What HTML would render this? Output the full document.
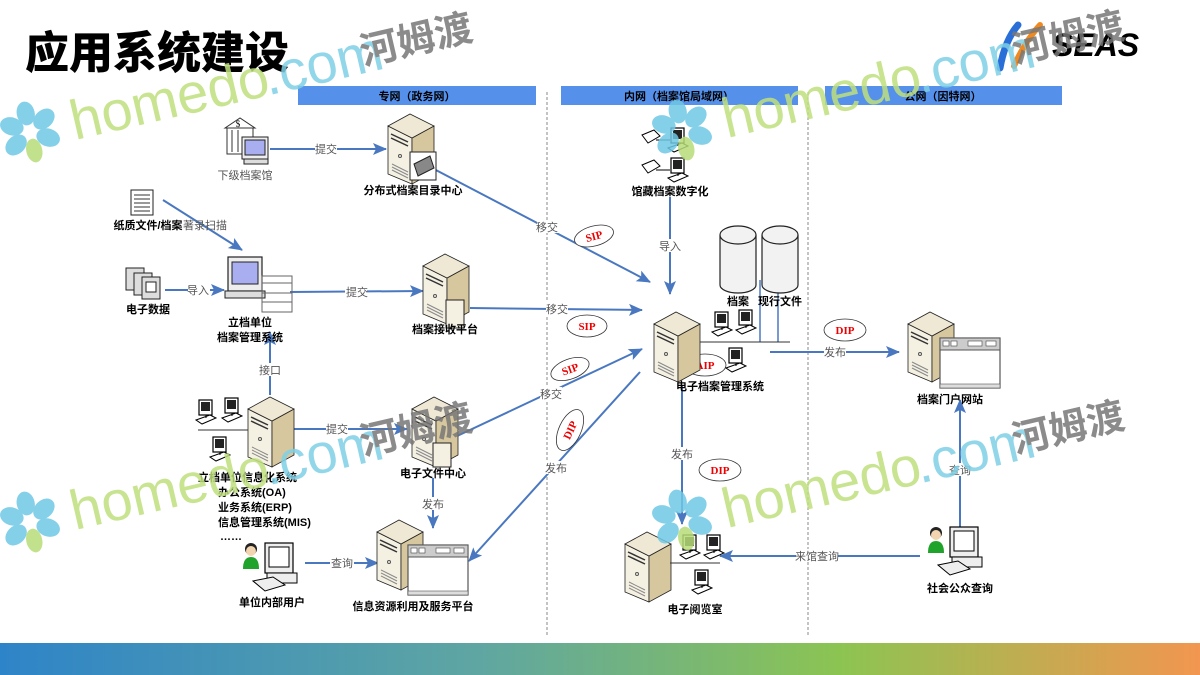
<!DOCTYPE html>
<html><head><meta charset="utf-8">
<style>
html,body{margin:0;padding:0;background:#fff;}
#c{position:relative;width:1200px;height:675px;overflow:hidden;font-family:"Liberation Serif","Noto Serif CJK SC","Noto Sans CJK SC",serif;}
svg text{font-family:"Liberation Serif","Noto Sans CJK SC",serif;}
svg text.b{font-family:"Liberation Sans","Noto Sans CJK SC",sans-serif;font-weight:bold;font-size:11px;fill:#000;}
.g{font-size:11px;fill:#555;}
.r{font-size:11px;fill:#e00;font-weight:bold;}
svg text.wm{font-family:"Liberation Sans",sans-serif;}
svg text.wc{font-family:"Noto Sans CJK SC","WenQuanYi Zen Hei",sans-serif;font-weight:bold;}
</style></head><body><div id="c">
<svg width="1200" height="675" viewBox="0 0 1200 675" xmlns="http://www.w3.org/2000/svg">
<defs>
<linearGradient id="bar" x1="0" x2="1">
<stop offset="0" stop-color="#2e84c8"/><stop offset="0.4" stop-color="#5fa6a2"/><stop offset="0.7" stop-color="#8cc452"/><stop offset="1" stop-color="#f29650"/>
</linearGradient>
<marker id="ah" markerWidth="14" markerHeight="12" refX="13" refY="6" orient="auto" markerUnits="userSpaceOnUse">
<path d="M0,0 L14,6 L0,12 L3,6 z" fill="#4a78c0"/></marker>
<g id="srv">
<polygon points="0,14 24,26 24,72 0,62" fill="#f4f0e2" stroke="#222" stroke-width="0.8"/>
<polygon points="24,26 46,14 46,60 24,72" fill="#d6c79e" stroke="#222" stroke-width="0.8"/>
<polygon points="0,14 22,2 46,14 24,26" fill="#eee8d4" stroke="#222" stroke-width="0.8"/>
<line x1="3" y1="22" x2="20" y2="30" stroke="#333" stroke-width="1.5"/>
<line x1="3" y1="26" x2="20" y2="34" stroke="#333" stroke-width="1.5"/>
<circle cx="12" cy="44" r="1.5" fill="none" stroke="#555"/>
<line x1="4" y1="52" x2="20" y2="60" stroke="#888"/><line x1="4" y1="55" x2="20" y2="63" stroke="#888"/><line x1="4" y1="58" x2="20" y2="66" stroke="#888"/>
</g>
<g id="pc">
<rect x="3" y="0" width="13" height="15" fill="#fff" stroke="#000" stroke-width="1.2"/>
<rect x="5" y="2" width="9" height="9" fill="#222"/>
<polygon points="0,20 14,15 20,18 6,24" fill="#fff" stroke="#000"/>
<line x1="10" y1="15" x2="10" y2="18" stroke="#000"/>
</g>
<g id="win">
<rect x="0" y="0" width="60" height="50" fill="#fff" stroke="#555" stroke-width="1.2"/>
<rect x="0" y="0" width="60" height="12" fill="#ccc" stroke="#555"/>
<rect x="3" y="3" width="6" height="5" fill="#fff" stroke="#444" stroke-width="0.6"/><rect x="11" y="3" width="6" height="5" fill="#fff" stroke="#444" stroke-width="0.6"/>
<rect x="28" y="3" width="14" height="5" fill="#fff" stroke="#444" stroke-width="0.6"/><rect x="46" y="3" width="10" height="5" fill="#fff" stroke="#444" stroke-width="0.6"/>
<rect x="0" y="46" width="60" height="4" fill="#ddd" stroke="#555" stroke-width="0.6"/>
</g>
<g id="person">
<circle cx="8" cy="6" r="6" fill="#222"/><circle cx="8" cy="8" r="5" fill="#f2d5b0"/>
<path d="M0,26 Q0,14 8,14 Q16,14 16,26 z" fill="#1fa32a"/>
<rect x="22" y="0" width="28" height="30" fill="#eee" stroke="#000" stroke-width="1.2"/>
<rect x="26" y="4" width="20" height="20" fill="#fff" stroke="#000"/>
<rect x="24" y="30" width="30" height="10" fill="#eee" stroke="#000"/>
<polygon points="10,38 30,34 42,42 22,48" fill="#eee" stroke="#000"/>
</g>
<g id="flower" fill="#6fc8e6">
<ellipse cx="0" cy="-19" rx="9" ry="12"/><ellipse cx="0" cy="-19" rx="9" ry="12" transform="rotate(60)"/>
<ellipse cx="0" cy="-19" rx="9" ry="12" transform="rotate(120)"/><ellipse cx="0" cy="-19" rx="9" ry="12" transform="rotate(-60)"/>
<ellipse cx="0" cy="-19" rx="9" ry="12" transform="rotate(-120)"/><ellipse cx="0" cy="19" rx="8" ry="12" fill="#b7dc78"/>
</g>
<g id="wmk">
<use href="#flower"/>
<text class="wm" x="42" y="18" font-size="56" fill="#bfe07e">homedo</text>
<text class="wm" x="240" y="18" font-size="56" fill="#7fd0e6">.com</text>
<text class="wc" x="340" y="10" font-size="38" fill="#777">河姆渡</text>
</g>
</defs>

<text x="25" y="68" style="font-family:'Liberation Sans','Noto Sans CJK SC',sans-serif;font-weight:900;font-size:44px" fill="#000">应用系统建设</text>

<rect x="298" y="86" width="238" height="19" fill="#5590ea"/>
<rect x="561" y="86" width="237" height="19" fill="#5590ea"/>
<rect x="825" y="86" width="237" height="19" fill="#5590ea"/>
<text x="417" y="100" text-anchor="middle" class="b">专网（政务网）</text>
<text x="679" y="100" text-anchor="middle" class="b">内网（档案馆局域网）</text>
<text x="943" y="100" text-anchor="middle" class="b">公网（因特网）</text>

<line x1="547" y1="92" x2="547" y2="635" stroke="#888" stroke-dasharray="3,2"/>
<line x1="808" y1="92" x2="808" y2="635" stroke="#888" stroke-dasharray="3,2"/>

<rect x="0" y="643" width="1200" height="32" fill="url(#bar)"/>

<g stroke="#4a78c0" stroke-width="2" fill="none" marker-end="url(#ah)">
<line x1="270" y1="149" x2="386" y2="149"/>
<line x1="432" y1="168" x2="650" y2="282"/>
<line x1="163" y1="200" x2="242" y2="250"/>
<line x1="165" y1="290" x2="224" y2="290"/>
<line x1="290" y1="292" x2="423" y2="291"/>
<line x1="470" y1="308" x2="642" y2="310"/>
<line x1="270" y1="395" x2="270" y2="332"/>
<line x1="292" y1="429" x2="407" y2="429"/>
<line x1="455" y1="437" x2="642" y2="349"/>
<line x1="640" y1="372" x2="469" y2="561"/>
<line x1="433" y1="478" x2="433" y2="528"/>
<line x1="305" y1="563" x2="378" y2="563"/>
<line x1="670" y1="197" x2="670" y2="294"/>
<line x1="770" y1="352" x2="899" y2="352"/>
<line x1="682" y1="385" x2="682" y2="524"/>
<line x1="960" y1="528" x2="960" y2="400"/>
<line x1="920" y1="556" x2="720" y2="556"/>
</g>
<g stroke="#4a78c0" stroke-width="1.5">
<line x1="760" y1="280" x2="760" y2="342"/><line x1="778" y1="280" x2="778" y2="342"/>
</g>

<g class="g" text-anchor="middle">
<rect x="315" y="142" width="22" height="13" fill="#fff"/><text x="326" y="153">提交</text>
<rect x="345" y="285" width="22" height="13" fill="#fff"/><text x="357" y="296">提交</text>
<rect x="326" y="422" width="22" height="13" fill="#fff"/><text x="337" y="433">提交</text>
<rect x="537" y="220" width="22" height="13" fill="#fff"/><text x="547" y="231">移交</text>
<rect x="546" y="302" width="22" height="13" fill="#fff"/><text x="557" y="313">移交</text>
<rect x="540" y="387" width="22" height="13" fill="#fff"/><text x="551" y="398">移交</text>
<rect x="545" y="461" width="22" height="13" fill="#fff"/><text x="556" y="472">发布</text>
<rect x="422" y="497" width="22" height="13" fill="#fff"/><text x="433" y="508">发布</text>
<rect x="330" y="556" width="24" height="13" fill="#fff"/><text x="342" y="567">查询</text>
<rect x="188" y="283" width="22" height="13" fill="#fff"/><text x="198" y="294">导入</text>
<rect x="659" y="239" width="22" height="13" fill="#fff"/><text x="670" y="250">导入</text>
<rect x="259" y="363" width="22" height="13" fill="#fff"/><text x="270" y="374">接口</text>
<rect x="824" y="345" width="22" height="13" fill="#fff"/><text x="835" y="356">发布</text>
<rect x="671" y="447" width="22" height="13" fill="#fff"/><text x="682" y="458">发布</text>
<rect x="949" y="463" width="22" height="13" fill="#fff"/><text x="960" y="474">查询</text>
<rect x="796" y="549" width="42" height="13" fill="#fff"/><text x="817" y="560">来馆查询</text>
<text x="205" y="229">著录扫描</text>
<text x="245" y="179">下级档案馆</text>
</g>

<g fill="#fff" stroke="#333" stroke-width="0.8">
<ellipse cx="594" cy="236" rx="20" ry="10" transform="rotate(-15 594 236)"/>
<ellipse cx="587" cy="326" rx="20" ry="11"/>
<ellipse cx="570" cy="369" rx="20" ry="10" transform="rotate(-20 570 369)"/>
<ellipse cx="570" cy="430" rx="11" ry="22" transform="rotate(25 570 430)"/>
<ellipse cx="705" cy="365" rx="21" ry="11"/>
<ellipse cx="845" cy="330" rx="21" ry="11"/>
<ellipse cx="720" cy="470" rx="21" ry="11"/>
</g>
<g class="r" text-anchor="middle">
<text x="594" y="240" transform="rotate(-15 594 236)">SIP</text>
<text x="587" y="330">SIP</text>
<text x="570" y="373" transform="rotate(-20 570 369)">SIP</text>
<text x="570" y="434" transform="rotate(-65 570 430)">DIP</text>
<text x="705" y="369">AIP</text>
<text x="845" y="334">DIP</text>
<text x="720" y="474">DIP</text>
</g>

<g stroke="#333" fill="#fff">
<polygon points="225,128 240,118 255,128"/>
<rect x="227" y="128" width="26" height="26"/>
<line x1="232" y1="130" x2="232" y2="152"/><line x1="238" y1="130" x2="238" y2="152"/>
</g>
<text x="238" y="127" font-size="9" text-anchor="middle">$</text>
<rect x="242" y="137" width="26" height="22" fill="#eee" stroke="#222"/>
<rect x="245" y="140" width="20" height="15" fill="#a8aef0" stroke="#222"/>
<rect x="244" y="159" width="24" height="5" fill="#ddd" stroke="#222"/>

<use href="#srv" x="388" y="112"/>
<g transform="translate(410,152)"><rect x="0" y="0" width="26" height="28" fill="#fff" stroke="#222"/><polygon points="4,12 20,4 24,16 8,24" fill="#888" stroke="#222"/></g>
<text x="413" y="194" class="b" text-anchor="middle">分布式档案目录中心</text>

<rect x="131" y="190" width="22" height="25" fill="#fff" stroke="#222"/>
<g stroke="#333"><line x1="134" y1="195" x2="150" y2="195"/><line x1="134" y1="199" x2="150" y2="199"/><line x1="134" y1="203" x2="150" y2="203"/><line x1="134" y1="207" x2="150" y2="207"/><line x1="134" y1="211" x2="150" y2="211"/></g>
<text x="148" y="229" class="b" text-anchor="middle">纸质文件/档案</text>

<g stroke="#222" fill="#ddd">
<rect x="126" y="268" width="18" height="22"/><rect x="134" y="273" width="18" height="22"/><rect x="142" y="277" width="18" height="22"/>
<rect x="146" y="282" width="10" height="10" fill="#fff"/>
</g>
<text x="148" y="313" class="b" text-anchor="middle">电子数据</text>

<rect x="228" y="257" width="34" height="34" fill="#eee" stroke="#222" stroke-width="1.2"/>
<rect x="232" y="262" width="26" height="22" fill="#a8aef0" stroke="#222"/>
<rect x="225" y="291" width="40" height="7" fill="#ddd" stroke="#222"/>
<g stroke="#666" fill="none"><rect x="262" y="276" width="30" height="36"/><line x1="262" y1="283" x2="292" y2="283"/><line x1="262" y1="293" x2="292" y2="293"/><line x1="262" y1="302" x2="292" y2="302"/></g>
<text x="250" y="326" class="b" text-anchor="middle">立档单位</text>
<text x="250" y="341" class="b" text-anchor="middle">档案管理系统</text>

<use href="#srv" x="423" y="252"/>
<rect x="446" y="300" width="18" height="28" fill="#f4f0e2" stroke="#222"/>
<text x="445" y="333" class="b" text-anchor="middle">档案接收平台</text>

<use href="#pc" x="668" y="128"/><use href="#pc" x="668" y="158"/>
<g fill="#fff" stroke="#000"><polygon points="642,135 654,130 660,136 648,143"/><polygon points="642,165 654,160 660,166 648,173"/></g>
<line x1="656" y1="140" x2="670" y2="140" stroke="#000"/><line x1="656" y1="170" x2="670" y2="170" stroke="#000"/>
<text x="670" y="195" class="b" text-anchor="middle">馆藏档案数字化</text>

<g fill="#f2f2f2" stroke="#222" stroke-width="1.2">
<path d="M720,235 v50 a18,8 0 0 0 36,0 v-50"/><ellipse cx="738" cy="235" rx="18" ry="9"/>
<path d="M762,235 v50 a18,8 0 0 0 36,0 v-50"/><ellipse cx="780" cy="235" rx="18" ry="9"/>
</g>
<text x="738" y="305" class="b" text-anchor="middle">档案</text>
<text x="780" y="305" class="b" text-anchor="middle">现行文件</text>

<use href="#srv" x="654" y="310"/>
<line x1="700" y1="342" x2="790" y2="342" stroke="#333"/>
<use href="#pc" x="712" y="312"/><use href="#pc" x="736" y="310"/><use href="#pc" x="726" y="348"/>
<text x="720" y="390" class="b" text-anchor="middle">电子档案管理系统</text>

<use href="#srv" x="908" y="310"/>
<use href="#win" x="940" y="338"/>
<text x="950" y="403" class="b" text-anchor="middle">档案门户网站</text>

<use href="#srv" x="248" y="395"/>
<line x1="198" y1="430" x2="248" y2="430" stroke="#333"/>
<use href="#pc" x="196" y="400"/><use href="#pc" x="222" y="398"/><use href="#pc" x="210" y="437"/>
<g><text class="b" x="198" y="481">立档单位信息化系统</text>
<text class="b" x="218" y="496">办公系统(OA)</text><text class="b" x="218" y="511">业务系统(ERP)</text><text class="b" x="218" y="526">信息管理系统(MIS)</text><text class="b" x="220" y="540">……</text></g>

<use href="#srv" x="412" y="395"/>
<rect x="433" y="443" width="18" height="24" fill="#f4f0e2" stroke="#222"/>
<text x="433" y="477" class="b" text-anchor="middle">电子文件中心</text>

<use href="#srv" x="377" y="518"/>
<use href="#win" x="408" y="545"/>
<text x="413" y="610" class="b" text-anchor="middle">信息资源利用及服务平台</text>

<use href="#person" x="243" y="543"/>
<text x="272" y="606" class="b" text-anchor="middle">单位内部用户</text>

<use href="#srv" x="625" y="530"/>
<line x1="670" y1="563" x2="720" y2="563" stroke="#333"/>
<use href="#pc" x="680" y="535"/><use href="#pc" x="704" y="535"/><use href="#pc" x="692" y="570"/>
<text x="695" y="613" class="b" text-anchor="middle">电子阅览室</text>

<use href="#person" x="928" y="527"/>
<text x="960" y="592" class="b" text-anchor="middle">社会公众查询</text>

<path d="M1000,68 Q1005,40 1018,25" stroke="#2a6fd8" stroke-width="7" fill="none" stroke-linecap="round"/>
<path d="M1014,66 Q1026,40 1040,25" stroke="#f08a20" stroke-width="6" fill="none" stroke-linecap="round"/>
<text x="1052" y="56" style="font-family:'Liberation Sans',sans-serif;font-weight:bold;font-style:italic;font-size:32px" fill="#000">SEAS</text>

<g opacity="0.85">
<use href="#wmk" transform="translate(30,132) rotate(-13)"/>
<use href="#wmk" transform="translate(682,130) rotate(-13)"/>
<use href="#wmk" transform="translate(30,522) rotate(-13)"/>
<use href="#wmk" transform="translate(682,520) rotate(-13)"/>
</g>
</svg>
</div></body></html>
